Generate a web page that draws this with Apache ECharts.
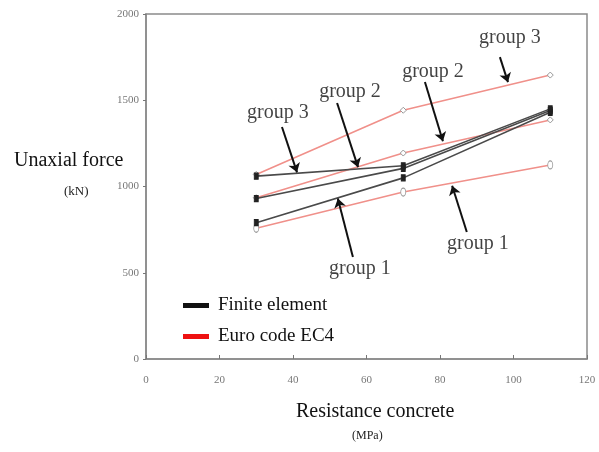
<!DOCTYPE html>
<html>
<head>
<meta charset="utf-8">
<script src="https://cdn.jsdelivr.net/npm/echarts@6/dist/echarts.min.js"></script>
<style>
  html, body { margin: 0; padding: 0; background: #fff; }
  #chart { width: 599px; height: 452px; }
</style>
</head>
<body>
<div id="chart"></div>
<script>
// Concrete strength (MPa) at which each configuration was evaluated
const strength = [30, 70, 110];

// Finite element results (kN)
const feGroup1 = [790, 1050, 1430];
const feGroup2 = [930, 1105, 1440];
const feGroup3 = [1060, 1120, 1450];

// Eurocode 4 predictions (kN)
const ecGroup1 = [758, 968, 1125];
const ecGroup2 = [935, 1194, 1386];
const ecGroup3 = [1070, 1442, 1646];

// Axis ticks
const xTicks = [0, 20, 40, 60, 80, 100, 120];
const yTicks = [0, 500, 1000, 1500, 2000];

// Callout labels: text anchor, arrow tail, arrow head (data units)
const calloutText = ['group 3', 'group 2', 'group 2', 'group 3', 'group 1', 'group 1'];
const calloutAt = [[35.9, 1430], [55.5, 1552], [78.1, 1668], [99.0, 1865], [58.2, 524], [90.3, 668]];
const arrowFrom = [[37.0, 1345], [52.0, 1484], [75.9, 1606], [96.3, 1750], [56.3, 591], [87.3, 736]];
const arrowTo = [[41.1, 1082], [57.7, 1112], [80.8, 1262], [98.5, 1605], [52.2, 930], [83.3, 1004]];

const serif = '"Liberation Serif", "DejaVu Serif", serif';
const FE = 'Finite element';
const EC = 'Euro code EC4';

function pairs(ys) { return strength.map((x, i) => [x, ys[i]]); }

function feSeries(ys) {
  return {
    name: FE, type: 'line', data: pairs(ys),
    symbol: 'rect', symbolSize: [4, 6], showSymbol: true,
    lineStyle: { color: '#4a4a4a', width: 1.6 },
    itemStyle: { color: '#222', borderColor: '#222' },
    z: 3
  };
}
function ecSeries(ys, sym, size) {
  return {
    name: EC, type: 'line', data: pairs(ys),
    symbol: sym, symbolSize: size,
    lineStyle: { color: '#f0908a', width: 1.6 },
    itemStyle: { color: '#fff', borderColor: '#999', borderWidth: 1 },
    z: 2
  };
}

const chart = echarts.init(document.getElementById('chart'), null, { renderer: 'canvas' });

chart.setOption({
  animation: false,
  backgroundColor: '#fff',
  grid: {
    left: 146, right: 12, top: 14, bottom: 93,
    show: true, borderColor: '#8a8a8a', borderWidth: 1.5, backgroundColor: 'transparent'
  },
  xAxis: {
    type: 'value', min: xTicks[0], max: xTicks[xTicks.length - 1], interval: 20,
    axisLine: { show: true, lineStyle: { color: '#8a8a8a', width: 1.5 } },
    axisTick: { show: true, inside: true, length: 4, lineStyle: { color: '#777' } },
    splitLine: { show: false },
    axisLabel: { color: '#777', fontFamily: serif, fontSize: 11, margin: 16, formatter: v => String(v) }
  },
  yAxis: {
    type: 'value', min: yTicks[0], max: yTicks[yTicks.length - 1], interval: 500,
    axisLine: { show: true, lineStyle: { color: '#8a8a8a', width: 1.5 } },
    axisTick: { show: true, length: 3, lineStyle: { color: '#777' } },
    splitLine: { show: false },
    axisLabel: { color: '#777', fontFamily: serif, fontSize: 11, margin: 7, formatter: v => String(v) }
  },
  legend: {
    left: 178, top: 291, orient: 'vertical', itemGap: 12,
    itemWidth: 26, itemHeight: 5, icon: 'rect',
    textStyle: { fontFamily: serif, fontSize: 19, color: '#111', padding: [0, 0, 0, 4] },
    data: [
      { name: FE, itemStyle: { color: '#111', borderWidth: 0 } },
      { name: EC, itemStyle: { color: '#ee1111', borderWidth: 0 } }
    ],
    selectedMode: false
  },
  graphic: [
    { type: 'text', left: 14, top: 151, style: { text: 'Unaxial force', font: '20px ' + serif, fill: '#111' } },
    { type: 'text', left: 64, top: 185, style: { text: '(kN)', font: '13px ' + serif, fill: '#222' } },
    { type: 'text', left: 296, top: 402, style: { text: 'Resistance concrete', font: '20px ' + serif, fill: '#111' } },
    { type: 'text', left: 352, top: 430, style: { text: '(MPa)', font: '12px ' + serif, fill: '#222' } }
  ],
  series: [
    ecSeries(ecGroup1, 'circle', [5, 8]),
    ecSeries(ecGroup2, 'diamond', 6),
    ecSeries(ecGroup3, 'diamond', 6),
    feSeries(feGroup1),
    feSeries(feGroup2),
    feSeries(feGroup3),
    {
      name: 'callout arrows', type: 'lines', coordinateSystem: 'cartesian2d',
      symbol: ['none', 'arrow'], symbolSize: 9,
      lineStyle: { color: '#111', width: 2, opacity: 1 },
      data: arrowFrom.map((p, i) => ({ coords: [p, arrowTo[i]] })),
      z: 5
    },
    {
      name: 'callout text', type: 'scatter', symbolSize: 0,
      data: calloutAt.map((p, i) => ({ value: p, name: calloutText[i] })),
      label: {
        show: true, position: 'inside', formatter: '{b}',
        fontFamily: serif, fontSize: 20, color: '#111'
      },
      z: 6
    }
  ]
});
</script>
</body>
</html>
